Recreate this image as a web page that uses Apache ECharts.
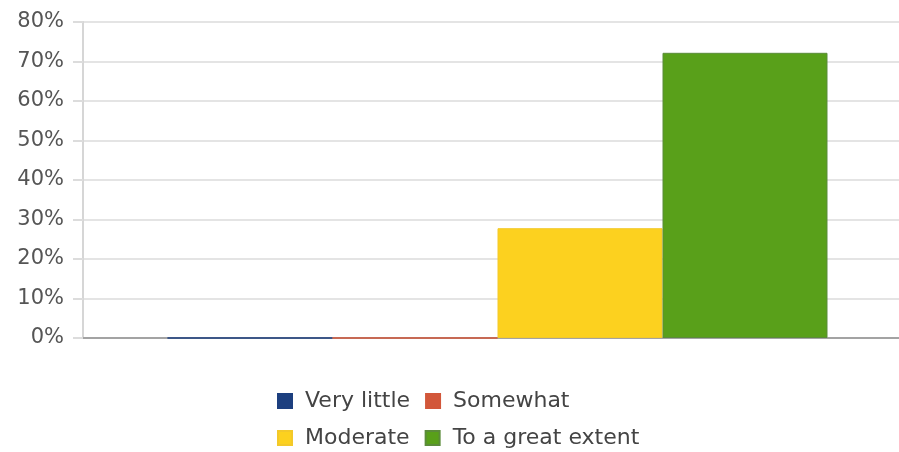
<!doctype html>
<html lang="en">
    <head>
        <meta charset="UTF-8">
        <title>Bar chart</title>
        <style>
            html, body { margin: 0; padding: 0; background: #fff; }
            #main { width: 899px; height: 452px; }
        </style>
    </head>
    <body>
        <div id="main"></div>
        <script src="https://cdn.jsdelivr.net/npm/echarts@6/dist/echarts.min.js"></script>
        <script type="text/javascript">
        // data
        var categories = ['Response'];
        var seriesNames = ['Very little', 'Somewhat', 'Moderate', 'To a great extent'];
        var seriesValues = [0, 0, 27.8, 72.2];
        var seriesColors = ['#1d3f7f', '#d2573a', '#fcd11f', '#59a01a'];
        var borderColors = ['#1d3f7f', '#d2573a', '#f3c92a', '#5b8c3a'];
        var yTicks = [0, 10, 20, 30, 40, 50, 60, 70, 80];

        var myChart = echarts.init(document.getElementById('main'));

        // empty spacer bar: the group in the original sits a little right of centre
        var series = [{
            name: 'spacer',
            type: 'bar',
            barWidth: 13,
            barGap: '0%',
            itemStyle: { color: 'rgba(0,0,0,0)' },
            silent: true,
            data: [0]
        }];
        for (var i = 0; i < seriesNames.length; i++) {
            series.push({
                name: seriesNames[i],
                type: 'bar',
                barWidth: 165,
                barGap: '0%',
                itemStyle: {
                    color: seriesColors[i],
                    borderColor: borderColors[i],
                    borderWidth: 1
                },
                data: [seriesValues[i]]
            });
        }

        var legendText = {
            color: '#444',
            fontSize: 22,
            fontFamily: 'DejaVu Sans',
            padding: [0, 0, 0, 8]
        };

        var option = {
            animation: false,
            textStyle: { fontFamily: 'DejaVu Sans' },
            grid: {
                left: 83,
                right: 0,
                top: 22,
                bottom: 114,
                containLabel: false
            },
            legend: [
                {
                    data: seriesNames.slice(0, 2),
                    left: 272,
                    top: 385,
                    icon: 'rect',
                    itemWidth: 14,
                    itemHeight: 14,
                    itemGap: 15,
                    textStyle: legendText
                },
                {
                    data: seriesNames.slice(2, 4),
                    left: 272,
                    top: 422,
                    icon: 'rect',
                    itemWidth: 14,
                    itemHeight: 14,
                    itemGap: 15,
                    textStyle: legendText
                }
            ],
            xAxis: {
                type: 'category',
                data: categories,
                axisLine: { lineStyle: { color: '#a3a3a3', width: 2 } },
                axisTick: { show: false },
                axisLabel: { show: false }
            },
            yAxis: {
                type: 'value',
                min: yTicks[0],
                max: yTicks[yTicks.length - 1],
                interval: 10,
                axisLine: { show: true, lineStyle: { color: '#d6d6d6', width: 2 } },
                axisTick: { show: true, length: 10, lineStyle: { color: '#dcdcdc', width: 2 } },
                splitLine: { lineStyle: { color: '#e4e4e4', width: 2 } },
                axisLabel: {
                    margin: 19,
                    color: '#555',
                    fontSize: 21,
                    fontFamily: 'DejaVu Sans',
                    formatter: '{value}%'
                }
            },
            series: series
        };

        myChart.setOption(option);
        </script>
    </body>
</html>
